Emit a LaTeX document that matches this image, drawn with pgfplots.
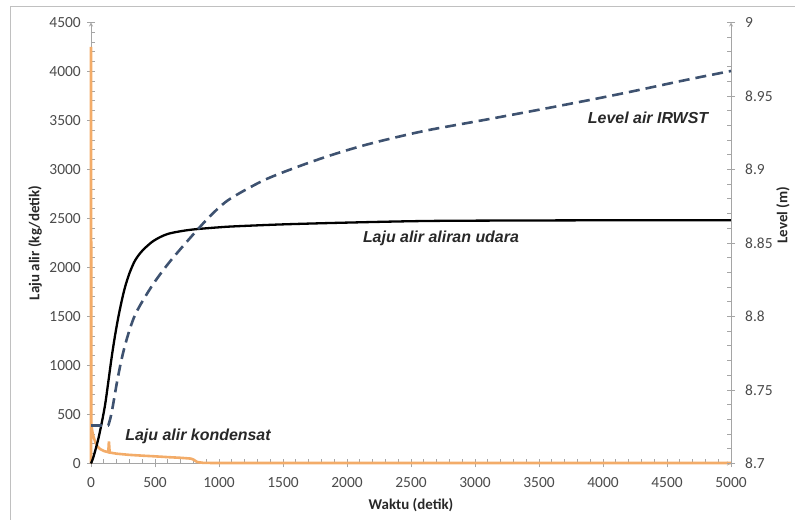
\documentclass[border=0pt]{standalone}
\usepackage{pgfplots}
\pgfplotsset{compat=1.18}
\usepackage{fontspec}
\setmainfont{Carlito}
\newfontfamily\arialf{Liberation Sans}
\definecolor{orng}{RGB}{243,172,105}
\definecolor{dsh}{RGB}{62,82,112}
\definecolor{axg}{RGB}{165,165,165}
\definecolor{tlg}{RGB}{75,75,75}
\definecolor{lbl}{RGB}{40,40,40}
\begin{document}
\begin{tikzpicture}[x=1bp,y=1bp]
\useasboundingbox (0,0) rectangle (795,520);
\draw[axg!70, line width=1bp] (10,0) -- (10,513) -- (795,513);
\pgfplotsset{
  common/.style={
    at={(91bp,56.5bp)}, anchor=south west, scale only axis,
    width=640bp, height=441bp,
    xmin=0, xmax=5000,
    axis line style={-, draw=axg, line width=0.8bp},
    every outer x axis line/.append style={-},
    every outer y axis line/.append style={-},
    tick style={draw=axg, line width=0.8bp},
    tick align=center, major tick length=8bp, minor tick length=4bp,
    tick label style={font=\fontsize{15.5}{17}\selectfont, text=tlg, inner sep=0pt},
    /pgf/number format/assume math mode=true,
    /pgf/number format/set thousands separator={},
    label style={font=\bfseries\fontsize{15}{17}\selectfont, text=lbl},
  }
}
\begin{axis}[common,
  ymin=0, ymax=4500, clip=false,
  axis x line=bottom, axis y line=left,
  xtick={0,500,...,5000}, ytick={0,500,...,4500},
  minor x tick num=4, minor y tick num=4,
  minor x tick style={yshift=2bp}, minor y tick style={xshift=2bp},
  xticklabel style={yshift=-10bp}, yticklabel style={xshift=-6bp},
  xlabel={Waktu (detik)}, ylabel={Laju alir (kg/detik)},
  xlabel style={at={(axis description cs:0.5,-0.0952)}, anchor=center},
  ylabel style={at={(axis description cs:-0.0875,0.5)}, anchor=center, rotate=0},
]
\addplot[orng, line width=2.6bp] coordinates {
(0,0) (0,4250) (3,400) (10,330) (20,270) (35,215) (50,175) (70,148) (100,128)
(135,115) (140,225) (146,112) (200,100) (300,88) (400,80) (500,73) (600,65)
(700,58) (780,50) (800,40) (830,15) (880,6) (1000,5) (2000,5) (3000,5) (4000,5) (5000,5)};
\addplot[black, line width=2.3bp, smooth] coordinates {
(0,0) (15,50) (35,140) (57,250) (80,390) (109,590) (135,830) (161,1080)
(187,1300) (213,1490) (240,1660) (266,1800) (300,1940) (344,2071) (400,2170)
(474,2258) (540,2310) (604,2344) (700,2370) (813,2390) (1000,2410) (1125,2420)
(1500,2440) (2000,2458) (2650,2475) (3500,2480) (4200,2482) (5000,2483)};
\node[font=\arialf\bfseries\itshape\fontsize{16}{18}\selectfont, text=lbl] at (axis cs:836,272) {Laju alir kondensat};
\node[font=\arialf\bfseries\itshape\fontsize{16}{18}\selectfont, text=lbl] at (axis cs:2734,2301) {Laju alir aliran udara};
\node[font=\arialf\bfseries\itshape\fontsize{16}{18}\selectfont, text=lbl] at (axis cs:4352,3525) {Level air IRWST};
\end{axis}
\begin{axis}[common,
  ymin=8.7, ymax=9,
  axis x line=none, axis y line=right,
  ytick={8.7,8.75,8.8,8.85,8.9,8.95,9},
  yticklabels={8.7,8.75,8.8,8.85,8.9,8.95,9},
  minor y tick num=4, minor y tick style={xshift=-2bp},
  yticklabel style={xshift=10bp, anchor=west},
  ylabel={Level (m)},
  ylabel style={at={(axis description cs:1.081,0.5635)}, anchor=center, rotate=0, font=\bfseries\fontsize{15}{17}\selectfont, text=lbl},
]
\addplot[dsh, line width=2.6bp, dash pattern=on 11bp off 6bp] coordinates {
(0,8.7258) (135,8.7258)};
\addplot[dsh, line width=2.6bp, dash pattern=on 11bp off 6bp, smooth] coordinates {
(135,8.7258) (161,8.7345) (213,8.760) (266,8.7805) (344,8.8010)
(474,8.8205) (604,8.8360) (734,8.8494) (852,8.8610) (956,8.8705) (1086,8.8800)
(1346,8.8925) (1607,8.9016) (1867,8.9095) (2127,8.9163) (2388,8.922)
(2648,8.9270) (3091,8.9340) (3612,8.9425) (4133,8.9514) (4654,8.9610) (5000,8.967)};
\end{axis}
\end{tikzpicture}
\end{document}
